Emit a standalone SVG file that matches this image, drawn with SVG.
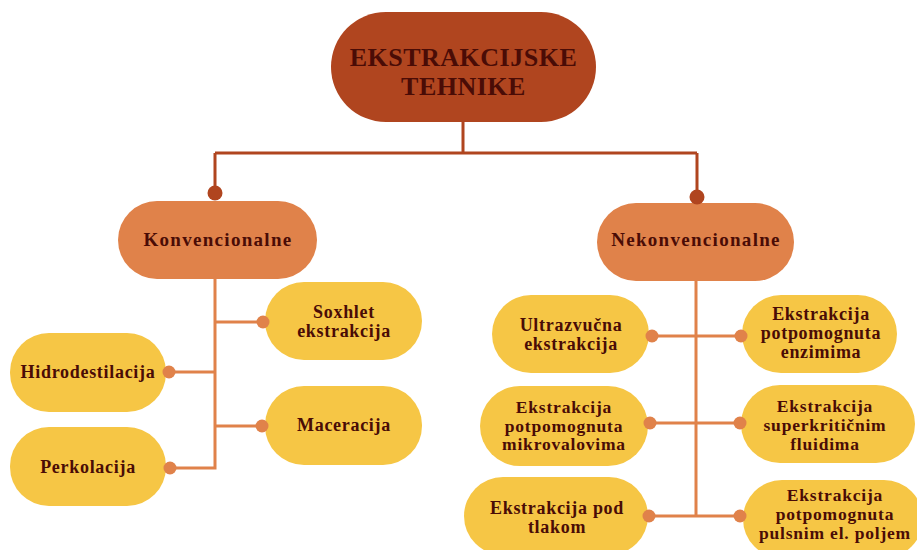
<svg xmlns="http://www.w3.org/2000/svg" width="917" height="550" viewBox="0 0 917 550">
<style>
text{font-family:"Liberation Serif","Times New Roman",serif;font-weight:bold;fill:#4A0C06;text-anchor:middle;}
.root{fill:#B0451F;}
.mid{fill:#E0824A;}
.leaf{fill:#F6C645;}
.t-root{font-size:26px;letter-spacing:0.5px;}
.t-mid{font-size:19px;letter-spacing:1.3px;}
.t-leaf{font-size:18px;letter-spacing:0.7px;}
.t-tight{font-size:17.5px;letter-spacing:0.8px;}
.l-dark{stroke:#B0451F;stroke-width:3;fill:none;}
.l-or{stroke:#E0824A;stroke-width:3;fill:none;}
.d-dark{fill:#B0451F;}
.d-or{fill:#E0824A;}
</style>
<rect width="917" height="550" fill="#FFFFFF"/>
<g id="root"><rect class="root" x="331" y="12" width="265" height="110" rx="55"/>
<text class="t-root" x="463.5" y="66">EKSTRAKCIJSKE</text><text class="t-root" x="463.5" y="95">TEHNIKE</text></g>
<g id="konvencionalne"><rect class="mid" x="118" y="201" width="199" height="78" rx="39"/>
<text class="t-mid" x="218" y="246">Konvencionalne</text></g>
<g id="nekonvencionalne"><rect class="mid" x="597" y="203" width="197" height="78" rx="39"/>
<text class="t-mid" x="696" y="246">Nekonvencionalne</text></g>
<g id="soxhlet"><rect class="leaf" x="265" y="282" width="157" height="78" rx="39"/>
<text class="t-leaf" x="344" y="318">Soxhlet</text><text class="t-leaf" x="344" y="337">ekstrakcija</text></g>
<g id="hidrodestilacija"><rect class="leaf" x="10" y="333" width="156" height="79" rx="39"/>
<text class="t-leaf" x="88" y="378">Hidrodestilacija</text></g>
<g id="maceracija"><rect class="leaf" x="265" y="386" width="157" height="79" rx="39"/>
<text class="t-leaf" x="344" y="431">Maceracija</text></g>
<g id="perkolacija"><rect class="leaf" x="10" y="427" width="156" height="79" rx="39"/>
<text class="t-leaf" x="88" y="473">Perkolacija</text></g>
<g id="ultrazvucna"><rect class="leaf" x="492" y="295" width="157" height="78" rx="39"/>
<text class="t-leaf" x="571" y="331">Ultrazvučna</text><text class="t-leaf" x="571" y="350">ekstrakcija</text></g>
<g id="enzimi"><rect class="leaf" x="742" y="295" width="155" height="78" rx="39"/>
<text class="t-leaf" x="821" y="320">Ekstrakcija</text><text class="t-leaf" x="821" y="339">potpomognuta</text><text class="t-leaf" x="821" y="358">enzimima</text></g>
<g id="mikrovalovi"><rect class="leaf" x="480" y="386" width="168" height="80" rx="40"/>
<text class="t-tight" x="564" y="413">Ekstrakcija</text><text class="t-tight" x="564" y="431.5">potpomognuta</text><text class="t-tight" x="564" y="450">mikrovalovima</text></g>
<g id="superkriticni"><rect class="leaf" x="741" y="385" width="174" height="78" rx="39"/>
<text class="t-tight" x="825" y="412">Ekstrakcija</text><text class="t-tight" x="825" y="431">superkritičnim</text><text class="t-tight" x="825" y="450">fluidima</text></g>
<g id="tlak"><rect class="leaf" x="464" y="477" width="184" height="78" rx="39"/>
<text class="t-leaf" x="557" y="514">Ekstrakcija pod</text><text class="t-leaf" x="557" y="533">tlakom</text></g>
<g id="pulsno"><rect class="leaf" x="743" y="480" width="180" height="78" rx="39"/>
<text class="t-tight" x="835" y="501">Ekstrakcija</text><text class="t-tight" x="835" y="520">potpomognuta</text><text class="t-tight" x="835" y="539">pulsnim el. poljem</text></g>
<g id="connectors">
<path class="l-dark" d="M463,122 V153 M215,153 H697 M215,153 V193 M697,153 V197"/>
<circle class="d-dark" cx="215" cy="193" r="7.5"/><circle class="d-dark" cx="697" cy="197" r="7.5"/>
<path class="l-or" d="M215,279 V468 H170 M215,372 H169 M215,322 H263 M215,426 H262"/>
<circle class="d-or" cx="169" cy="372" r="6.5"/><circle class="d-or" cx="170" cy="468" r="6.5"/>
<circle class="d-or" cx="263" cy="322" r="6.5"/><circle class="d-or" cx="262" cy="426" r="6.5"/>
<path class="l-or" d="M696,281 V516 M652,336 H741 M650,423 H740 M649,516 H740"/>
<circle class="d-or" cx="652" cy="336" r="6.5"/><circle class="d-or" cx="741" cy="336" r="6.5"/>
<circle class="d-or" cx="650" cy="423" r="6.5"/><circle class="d-or" cx="740" cy="423" r="6.5"/>
<circle class="d-or" cx="649" cy="516" r="6.5"/><circle class="d-or" cx="740" cy="516" r="6.5"/>
</g>
</svg>
